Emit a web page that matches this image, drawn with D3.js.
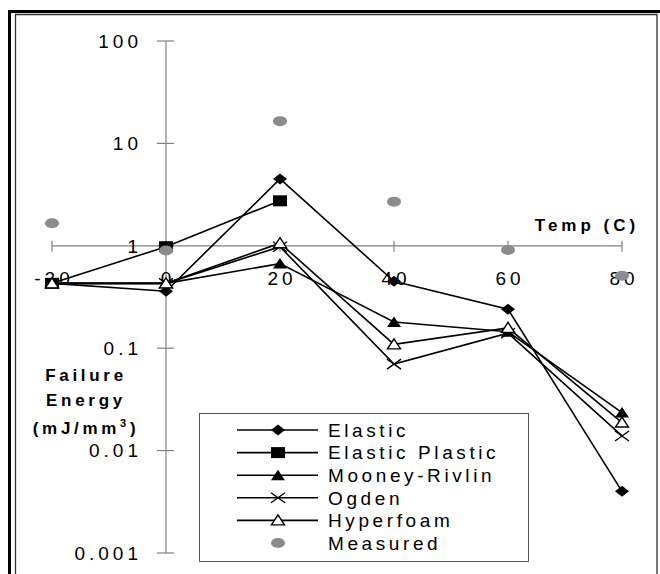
<!DOCTYPE html>
<html>
<head>
<meta charset="utf-8">
<script src="https://cdn.jsdelivr.net/npm/d3@7"></script>
<style>
  html, body { margin: 0; padding: 0; background: #fff; }
  svg { display: block; font-family: "Liberation Sans", Arial, sans-serif; }
</style>
</head>
<body>
<div id="chart"></div>
<script>
// ── Datos ──────────────────────────────────────────────────────────────
const temps = [-20, 0, 20, 40, 60, 80];
const elastic        = [0.43, 0.36, 4.5, 0.45, 0.24, 0.004];
const elasticPlastic = [0.43, 0.98, 2.75];            // solo -20, 0, 20
const mooneyRivlin   = [0.43, 0.43, 0.67, 0.18, 0.145, 0.0235];
const ogden          = [0.43, 0.43, 0.98, 0.07, 0.14, 0.0139];
const hyperfoam      = [0.43, 0.43, 1.06, 0.109, 0.158, 0.0188];
const measured       = [1.66, 0.9, 16.5, 2.7, 0.91, 0.51];

const xTicks = [-20, 0, 20, 40, 60, 80];
const yTicks = [0.001, 0.01, 0.1, 1, 10, 100];
const yTickLabels = ["0.001", "0.01", "0.1", "1", "10", "100"];

const series = [
  { name: "Elastic",         values: elastic,        marker: "diamond" },
  { name: "Elastic Plastic", values: elasticPlastic, marker: "square" },
  { name: "Mooney-Rivlin",   values: mooneyRivlin,   marker: "triangle" },
  { name: "Ogden",           values: ogden,          marker: "cross" },
  { name: "Hyperfoam",       values: hyperfoam,      marker: "opentri" },
];

// ── Tamaño y escalas ───────────────────────────────────────────────────
const width = 660, height = 574;

const x = d3.scaleLinear().domain([-20, 80]).range([52, 622]);
const y = d3.scaleLog().domain([0.001, 100]).range([553, 41]);

const svg = d3.create("svg")
  .attr("width", width)
  .attr("height", height)
  .attr("viewBox", [0, 0, width, height]);

// ── Marco doble ────────────────────────────────────────────────────────
svg.append("path")
  .attr("d", `M9.5,${height + 5} V11.5 H${width + 5}`)
  .attr("fill", "none").attr("stroke", "#000").attr("stroke-width", 3);
svg.append("path")
  .attr("d", `M15.5,${height + 5} V14.5 H657 V${height + 5}`)
  .attr("fill", "none").attr("stroke", "#333").attr("stroke-width", 1.3);

// ── Ejes (se cruzan en x=0, y=1) ──────────────────────────────────────
const axisColor = "#808080";
const axes = svg.append("g").attr("stroke", axisColor).attr("stroke-width", 1.2);

axes.append("line")
  .attr("x1", x(0)).attr("x2", x(0))
  .attr("y1", y(100)).attr("y2", y(0.001));
axes.selectAll(".ytick")
  .data(yTicks)
  .join("line")
  .attr("x1", x(0) - 9).attr("x2", x(0) + 8)
  .attr("y1", d => y(d)).attr("y2", d => y(d));

axes.append("line")
  .attr("x1", x(-20)).attr("x2", x(80))
  .attr("y1", y(1)).attr("y2", y(1));
axes.selectAll(".xtick")
  .data(xTicks)
  .join("line")
  .attr("x1", d => x(d)).attr("x2", d => x(d))
  .attr("y1", y(1) - 5).attr("y2", y(1) + 6);

// Etiquetas de los ejes
const tickFont = { size: "19px", spacing: "4px" };

svg.append("g")
  .selectAll("text")
  .data(yTicks)
  .join("text")
  .attr("x", 142)
  .attr("y", d => y(d))
  .attr("dy", "0.36em")
  .attr("text-anchor", "end")
  .style("font-size", tickFont.size)
  .style("letter-spacing", tickFont.spacing)
  .text((d, i) => yTickLabels[i]);

svg.append("g")
  .selectAll("text")
  .data(xTicks)
  .join("text")
  .attr("x", d => x(d) + 2)
  .attr("y", 285)
  .attr("text-anchor", "middle")
  .style("font-size", tickFont.size)
  .style("letter-spacing", tickFont.spacing)
  .text(d => d);

// Títulos
svg.append("text")
  .attr("x", 587).attr("y", 231)
  .attr("text-anchor", "middle")
  .style("font-size", "17px").style("font-weight", "bold")
  .style("letter-spacing", "4px")
  .text("Temp (C)");

const yTitle = svg.append("text")
  .attr("text-anchor", "middle")
  .style("font-size", "17px").style("font-weight", "bold")
  .style("letter-spacing", "3.7px");
yTitle.append("tspan").attr("x", 86).attr("y", 381).text("Failure");
yTitle.append("tspan").attr("x", 86).attr("y", 406).text("Energy");
const unit = yTitle.append("tspan").attr("x", 86).attr("y", 434);
unit.text("(mJ/mm");
yTitle.append("tspan").attr("dy", "-7").style("font-size", "11px").text("3");
yTitle.append("tspan").attr("dy", "7").text(")");

// ── Marcadores ─────────────────────────────────────────────────────────
function drawMarker(sel, type) {
  if (type === "diamond") {
    sel.append("path").attr("d", "M0,-5.5L7,0L0,5.5L-7,0Z").attr("fill", "#000");
  } else if (type === "square") {
    sel.append("rect").attr("x", -7).attr("y", -5.5).attr("width", 14).attr("height", 11).attr("fill", "#000");
  } else if (type === "triangle") {
    sel.append("path").attr("d", "M0,-5.5L7,5L-7,5Z").attr("fill", "#000");
  } else if (type === "opentri") {
    sel.append("path").attr("d", "M0,-5.5L6.5,4.5L-6.5,4.5Z")
      .attr("fill", "#fff").attr("stroke", "#000").attr("stroke-width", 1.4);
  } else if (type === "cross") {
    sel.append("path").attr("d", "M-7,-5L7,5M-7,5L7,-5")
      .attr("fill", "none").attr("stroke", "#000").attr("stroke-width", 1.4);
  } else if (type === "circle") {
    sel.append("ellipse").attr("rx", 7).attr("ry", 5).attr("fill", "#8c8c8c");
  }
}

// ── Series ─────────────────────────────────────────────────────────────
const line = d3.line().x(d => x(d[0])).y(d => y(d[1]));
const plot = svg.append("g");

series.forEach(s => {
  const pts = s.values.map((v, i) => [temps[i], v]);
  plot.append("path")
    .datum(pts)
    .attr("fill", "none")
    .attr("stroke", "#000")
    .attr("stroke-width", 1.6)
    .attr("d", line);
});

series.forEach(s => {
  const pts = s.values.map((v, i) => [temps[i], v]);
  plot.append("g")
    .selectAll("g")
    .data(pts)
    .join("g")
    .attr("transform", d => `translate(${x(d[0])},${y(d[1])})`)
    .each(function() { drawMarker(d3.select(this), s.marker); });
});

plot.append("g")
  .selectAll("g")
  .data(measured.map((v, i) => [temps[i], v]))
  .join("g")
  .attr("transform", d => `translate(${x(d[0])},${y(d[1])})`)
  .each(function() { drawMarker(d3.select(this), "circle"); });

// ── Leyenda ────────────────────────────────────────────────────────────
const legend = svg.append("g");
legend.append("rect")
  .attr("x", 199.5).attr("y", 413.5)
  .attr("width", 329).attr("height", 148)
  .attr("fill", "#fff").attr("stroke", "#555").attr("stroke-width", 1);

const legendItems = series.map(s => ({ name: s.name, marker: s.marker }))
  .concat([{ name: "Measured", marker: "circle" }]);

const item = legend.selectAll(".item")
  .data(legendItems)
  .join("g")
  .attr("transform", (d, i) => `translate(278,${430 + i * 22.6})`);

item.filter(d => d.marker !== "circle")
  .append("line")
  .attr("x1", -41).attr("x2", 40)
  .attr("stroke", "#000").attr("stroke-width", 1.6);

item.each(function(d) { drawMarker(d3.select(this), d.marker); });

item.append("text")
  .attr("x", 50)
  .attr("dy", "0.36em")
  .style("font-size", "19px")
  .style("letter-spacing", "3.6px")
  .text(d => d.name);

document.getElementById("chart").append(svg.node());
</script>
</body>
</html>
